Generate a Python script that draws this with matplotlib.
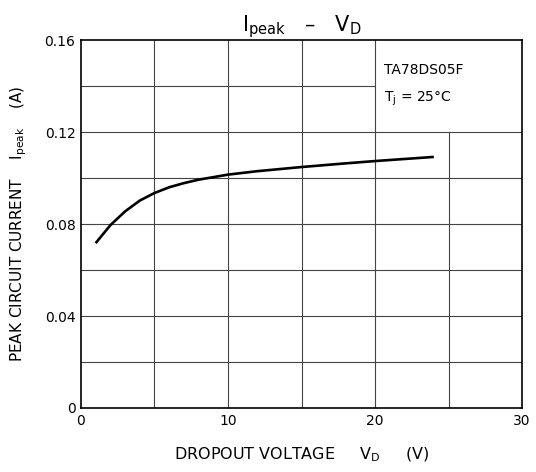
import numpy as np
import matplotlib
matplotlib.use("Agg")
import matplotlib.pyplot as plt

plt.rcParams['font.family'] = ['DejaVu Sans']
plt.rcParams['mathtext.fontset'] = 'dejavusans'

# curve
vd = [1, 2, 3, 4, 5, 6, 7, 8, 10, 12, 15, 18, 20, 22, 24]
ipeak = [0.0717, 0.0795, 0.0855, 0.0902, 0.0935, 0.0960, 0.0978, 0.0993, 0.1015,
         0.1030, 0.1048, 0.1064, 0.1074, 0.1083, 0.1092]

x_ticks = [0, 10, 20, 30]
y_ticks = [0, 0.04, 0.08, 0.12, 0.16]
y_tick_labels = ['0', '0.04', '0.08', '0.12', '0.16']
x_grid = [5, 10, 15, 20, 25]
y_grid = [0.02, 0.04, 0.06, 0.08, 0.10, 0.12, 0.14]

fig = plt.figure(figsize=(5.36, 4.72), dpi=100)
ax = fig.add_axes([0.151, 0.1356, 0.823, 0.7794])

# grid, with the annotation box (x 20-30, y 0.12-0.16) kept clear
for xv in x_grid:
    top = 0.12 if xv > 20 else 0.16
    ax.plot([xv, xv], [0, top], color='#444444', lw=0.8, zorder=1)
for yv in y_grid:
    right = 20 if yv > 0.12 else 30
    ax.plot([0, right], [yv, yv], color='#444444', lw=0.8, zorder=1)

ax.plot(vd, ipeak, color='black', lw=1.9, solid_capstyle='butt', zorder=3)

ax.set_xlim(0, 30)
ax.set_ylim(0, 0.16)
ax.set_xticks(x_ticks)
ax.set_yticks(y_ticks)
ax.set_yticklabels(y_tick_labels)
ax.tick_params(direction='in', length=0, labelsize=10, pad=4)
for s in ax.spines.values():
    s.set_linewidth(1.2)

ax.text(20.6, 0.147, 'TA78DS05F', fontsize=10, va='center')
ax.text(20.6, 0.1345, r'T$_\mathrm{j}$ = 25°C', fontsize=10, va='center')

ax.set_title(r'I$_\mathrm{peak}$   –   V$_\mathrm{D}$', fontsize=15, pad=3)
ax.set_xlabel(r'DROPOUT VOLTAGE     V$_\mathrm{D}$     (V)', fontsize=11.5, labelpad=13)
ax.set_ylabel(r'PEAK CIRCUIT CURRENT    I$_\mathrm{peak}$    (A)', fontsize=11, labelpad=11)

fig.savefig('out.png', dpi=100, facecolor='white')
